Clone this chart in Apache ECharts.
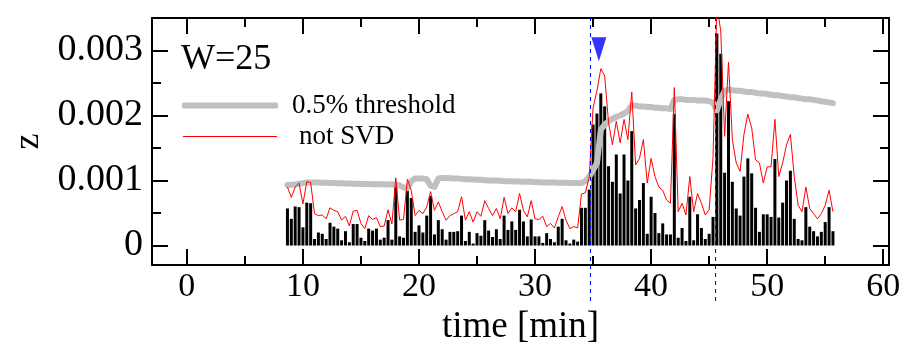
<!DOCTYPE html>
<html><head><meta charset="utf-8">
<script src="https://cdn.jsdelivr.net/npm/echarts@6/dist/echarts.min.js"></script>
<style>html,body{margin:0;padding:0;background:#fff}#c{width:908px;height:351px}</style>
</head><body><div id="c"></div>
<script>
// sampling: one value every 20 s starting at 8.67 min
const startMin = 8.67;
const stepMin = 1 / 3;

const zValues = [
0.00057,0.00041,0.00060,0.00059,0.00028,0.00066,0.00065,0.00010,0.00020,0.00018,
0.00010,0.00035,0.00029,0.00026,0.00008,0.00022,0.00005,0.00033,0.00033,0.00012,
0.00007,0.00026,0.00023,0.00026,0.00009,0.00012,0.00039,0.00009,0.00092,0.00014,
0.00012,0.00088,0.00073,0.00021,0.00031,0.00020,0.00046,0.00076,0.00017,0.00039,
0.00025,0.00009,0.00021,0.00021,0.00022,0.00046,0.00007,0.00021,0.00003,0.00019,
0.00015,0.00039,0.00023,0.00013,0.00025,0.00010,0.00046,0.00024,0.00037,0.00024,
0.00055,0.00037,0.00014,0.00040,0.00014,0.00014,0.00004,0.00019,0.00010,0.00005,
0.00029,0.00041,0.00008,0.00003,0.00009,0.00006,0.00058,0.00058,0.00086,0.00186,
0.00203,0.00234,0.00214,0.00122,0.00098,0.00140,0.00080,0.00140,0.00100,0.00176,
0.00057,0.00070,0.00096,0.00018,0.00075,0.00050,0.00019,0.00034,0.00017,0.00017,
0.00202,0.00012,0.00027,0.00007,0.00075,0.00008,0.00048,0.00027,0.00010,0.00018,
0.00044,0.00326,0.00295,0.00112,0.00222,0.00098,0.00057,0.00046,0.00106,0.00134,
0.00111,0.00058,0.00021,0.00048,0.00048,0.00044,0.00133,0.00043,0.00066,0.00100,
0.00115,0.00041,0.00010,0.00008,0.00059,0.00029,0.00022,0.00014,0.00021,0.00036,
0.00059,0.00022
];

const notSVD = [
0.00090,0.00074,0.00090,0.00096,0.00064,0.00098,0.00097,0.00049,0.00046,0.00047,
0.00041,0.00058,0.00054,0.00052,0.00039,0.00045,0.00030,0.00053,0.00054,0.00034,
0.00026,0.00046,0.00040,0.00043,0.00029,0.00030,0.00055,0.00033,0.00104,0.00039,
0.00040,0.00102,0.00085,0.00046,0.00054,0.00049,0.00059,0.00083,0.00054,0.00067,
0.00052,0.00039,0.00046,0.00049,0.00052,0.00075,0.00039,0.00052,0.00036,0.00052,
0.00045,0.00069,0.00057,0.00046,0.00057,0.00041,0.00074,0.00049,0.00058,0.00052,
0.00080,0.00054,0.00044,0.00069,0.00041,0.00040,0.00045,0.00029,0.00034,0.00027,
0.00044,0.00060,0.00039,0.00026,0.00029,0.00027,0.00079,0.00081,0.00105,0.00212,
0.00238,0.00272,0.00261,0.00189,0.00155,0.00191,0.00158,0.00194,0.00163,0.00236,
0.00124,0.00134,0.00163,0.00096,0.00134,0.00106,0.00090,0.00085,0.00070,0.00065,
0.00243,0.00052,0.00065,0.00047,0.00106,0.00052,0.00080,0.00065,0.00047,0.00055,
0.00135,0.00370,0.00330,0.00168,0.00282,0.00163,0.00127,0.00114,0.00171,0.00202,
0.00181,0.00132,0.00127,0.00096,0.00121,0.00121,0.00194,0.00106,0.00127,0.00155,
0.00171,0.00106,0.00062,0.00052,0.00090,0.00057,0.00049,0.00041,0.00049,0.00062,
0.00085,0.00052
];

const threshold = [
0.000930,0.000935,0.000940,0.000950,0.000960,0.000970,0.000970,0.000970,0.000968,0.000966,
0.000964,0.000962,0.000960,0.000958,0.000956,0.000954,0.000952,0.000950,0.000950,0.000948,
0.000946,0.000945,0.000944,0.000943,0.000942,0.000941,0.000940,0.000940,0.000938,0.000925,
0.000895,0.000880,0.000990,0.001030,0.001030,0.001030,0.001020,0.000920,0.000900,0.001030,
0.001040,0.001040,0.001035,0.001030,0.001030,0.001025,0.001020,0.001020,0.001015,0.001010,
0.001010,0.001005,0.001000,0.001000,0.001000,0.000995,0.000990,0.000990,0.000990,0.000985,
0.000985,0.000980,0.000980,0.000980,0.000975,0.000975,0.000970,0.000970,0.000970,0.000970,
0.000965,0.000965,0.000965,0.000960,0.000960,0.000960,0.000960,0.000990,0.001060,0.001160,
0.001270,0.001780,0.001860,0.001910,0.001950,0.001980,0.002000,0.002030,0.002070,0.002160,
0.002150,0.002140,0.002140,0.002130,0.002130,0.002120,0.002120,0.002110,0.002110,0.002100,
0.002240,0.002250,0.002250,0.002240,0.002240,0.002240,0.002230,0.002230,0.002230,0.002220,
0.002200,0.002080,0.002250,0.002380,0.002400,0.002390,0.002380,0.002380,0.002370,0.002360,
0.002360,0.002350,0.002340,0.002340,0.002330,0.002320,0.002310,0.002310,0.002300,0.002290,
0.002280,0.002280,0.002270,0.002260,0.002250,0.002250,0.002240,0.002230,0.002220,0.002210,
0.002200,0.002190
];

const eventTimes = [34.75, 45.55];
const markerPoint = [35.5, 0.00302];
const xLabelValues = [0, 10, 20, 30, 40, 50, 60];
const xMinorValues = [5, 15, 25, 35, 45, 55];
const yLabelValues = [0, 0.001, 0.002, 0.003];
const yMinorValues = [0.0005, 0.0015, 0.0025];

const FONT = 'Liberation Serif';
const X_MIN = -3, X_MAX = 60.5, Y_MIN = -0.0003, Y_MAX = 0.0035;

const times = zValues.map((_, i) => +(startMin + i * stepMin).toFixed(4));
const pairs = arr => arr.map((v, i) => [times[i], v]);

function xAx(pos, ticks, len, line, labels) {
  return {
    type: 'value', gridIndex: 0, position: pos, min: X_MIN, max: X_MAX,
    axisLine: { show: line, onZero: false, lineStyle: { color: '#000', width: 2 } },
    axisTick: { show: true, inside: true, length: len, customValues: ticks, lineStyle: { color: '#000', width: 2 } },
    axisLabel: labels ? { show: true, customValues: xLabelValues, fontFamily: FONT, fontSize: 34, color: '#000', margin: 5 } : { show: false },
    splitLine: { show: false }
  };
}
function yAx(pos, ticks, len, line, labels) {
  return {
    type: 'value', gridIndex: 0, position: pos, min: Y_MIN, max: Y_MAX,
    axisLine: { show: line, onZero: false, lineStyle: { color: '#000', width: 2 } },
    axisTick: { show: true, inside: true, length: len, customValues: ticks, lineStyle: { color: '#000', width: 2 } },
    axisLabel: labels ? {
      show: true, customValues: yLabelValues, fontFamily: FONT, fontSize: 38, color: '#000', margin: 9,
      formatter: v => (Math.abs(v) < 1e-12 ? '0' : v.toFixed(3))
    } : { show: false },
    splitLine: { show: false }
  };
}

const xAxes = [
  Object.assign(xAx('bottom', xLabelValues, 16, true, true), {
    name: 'time [min]', nameLocation: 'middle', nameGap: 41,
    nameTextStyle: { fontFamily: FONT, fontSize: 37, color: '#000' }
  }),
  xAx('bottom', xMinorValues, 9, false, false),
  xAx('top', xLabelValues, 16, true, false),
  xAx('top', xMinorValues, 9, false, false),
  { type: 'value', gridIndex: 1, min: X_MIN, max: X_MAX, show: false }
];
const yAxes = [
  Object.assign(yAx('left', yLabelValues, 16, true, true), {
    name: 'z', nameLocation: 'middle', nameGap: 104,
    nameTextStyle: { fontFamily: FONT, fontSize: 36, color: '#000' }
  }),
  yAx('left', yMinorValues, 9, false, false),
  yAx('right', yLabelValues, 16, true, false),
  yAx('right', yMinorValues, 9, false, false),
  { type: 'value', gridIndex: 1, min: 0, max: 1, show: false }
];

const chart = echarts.init(document.getElementById('c'), null, { renderer: 'canvas' });
chart.setOption({
  animation: false,
  backgroundColor: '#fff',
  title: {
    text: 'W=25', left: 181, top: 42, padding: 0,
    textStyle: { fontFamily: FONT, fontSize: 36, fontWeight: 'normal', color: '#000' }
  },
  legend: [
    {
      data: [{ name: '0.5% threshold', icon: 'roundRect' }],
      left: 182, top: 92, itemWidth: 96, itemHeight: 6, selectedMode: false, padding: 0,
      textStyle: { fontFamily: FONT, fontSize: 27, color: '#000', padding: [0, 0, 0, 9] }
    },
    {
      data: [{ name: 'not SVD', icon: 'rect' }],
      left: 183, top: 123, itemWidth: 94, itemHeight: 1, selectedMode: false, padding: 0,
      textStyle: { fontFamily: FONT, fontSize: 27, color: '#000', padding: [0, 0, 0, 17] }
    }
  ],
  grid: [
    { left: 152, right: 19, top: 18, bottom: 86 },
    { left: 152, right: 19, top: 14, bottom: 50 }
  ],
  xAxis: xAxes,
  yAxis: yAxes,
  series: [
    {
      name: 'z', type: 'bar', xAxisIndex: 0, yAxisIndex: 0,
      data: pairs(zValues), barWidth: 3, itemStyle: { color: '#000' }, silent: true
    },
    {
      name: '0.5% threshold', type: 'line', xAxisIndex: 0, yAxisIndex: 0,
      data: pairs(threshold), symbol: 'none', color: '#c0c0c0',
      lineStyle: { color: '#c0c0c0', width: 6, cap: 'round', join: 'round' }
    },
    {
      name: 'not SVD', type: 'line', xAxisIndex: 0, yAxisIndex: 0,
      data: pairs(notSVD), symbol: 'none', color: '#ff0000',
      lineStyle: { color: '#ff0000', width: 1 }
    },
    {
      name: 'marker', type: 'scatter', xAxisIndex: 0, yAxisIndex: 0,
      data: [markerPoint], symbol: 'triangle', symbolRotate: 180, symbolSize: [15, 24],
      itemStyle: { color: '#0000ff' }, silent: true
    },
    {
      name: 'events', type: 'line', xAxisIndex: 4, yAxisIndex: 4, data: [],
      markLine: {
        silent: true, symbol: 'none', label: { show: false },
        lineStyle: { color: '#0000ff', type: [4, 4], width: 1 },
        data: eventTimes.map(t => ({ xAxis: t }))
      }
    }
  ]
});
</script></body></html>
